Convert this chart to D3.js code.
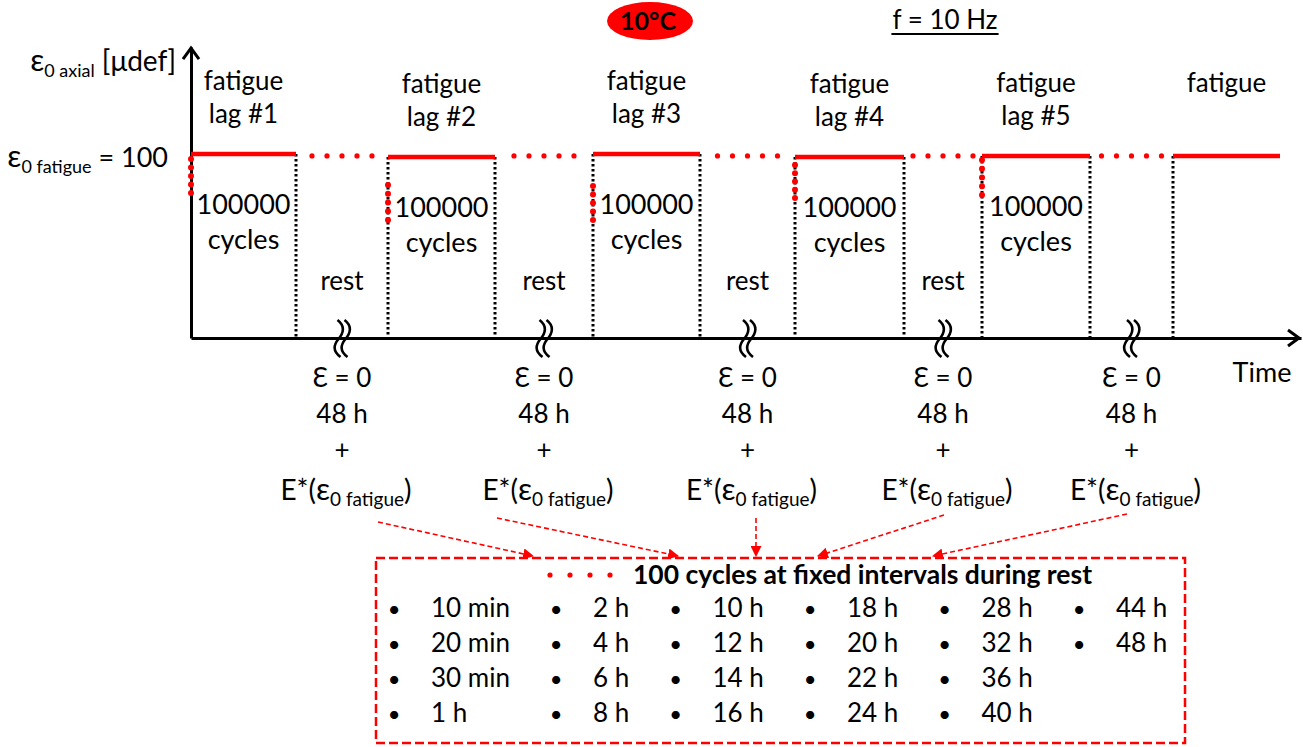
<!DOCTYPE html>
<html><head><meta charset="utf-8">
<script src="https://cdn.jsdelivr.net/npm/d3@7"></script>
<style>
body{margin:0;background:#fff}
svg{display:block}
text{font-family:Lato,"Open Sans",sans-serif;fill:#000}
</style>
</head><body>
<svg id="c" width="1303" height="747"></svg>
<script>
// ---------------- data ----------------
const fatigueLags   = ["lag #1", "lag #2", "lag #3", "lag #4", "lag #5", ""];
const fatigueStart  = [0, 197, 402, 604, 791, 982];      // time (arbitrary units)
const fatigueEnd    = [105, 304, 509, 713, 899, 1089];
const fatigueLevel  = [100.5, 98.9, 100.5, 98.9, 99.5, 99.5]; // µdef
const rampTop       = [97.8, 83.6, 83.1, 94.5, 97.3];    // µdef, first check dots
const rampBottom    = [79.2, 64.5, 64.5, 76.5, 78.1];
const restLevel     = 99.5;
const restLabelShown = [true, true, true, true, false];
const restLines     = ["\u0190 = 0", "48 h", "+"];
const checkTimes    = ["10 min","20 min","30 min","1 h","2 h","4 h","6 h","8 h",
                       "10 h","12 h","14 h","16 h","18 h","20 h","22 h","24 h",
                       "28 h","32 h","36 h","40 h","44 h","48 h"];
const arrowFrom     = [187, 306, 565, 753, 936];          // time units
const arrowTo       = [342, 487, 565, 627, 742];          // time units
const tempLabel = "10°C";
const freqLabel = "f = 10 Hz";
const boxTitle  = "100 cycles at fixed intervals during rest";

// ---------------- scales ----------------
const svg = d3.select("#c");
const x = d3.scaleLinear().domain([0, 1110]).range([191, 1301]);
const y = d3.scaleLinear().domain([0, 100]).range([338, 155]);
const RED = "#ff0000";
const FS = 26;

// ---------------- axes ----------------
svg.append("g").attr("transform", `translate(0,${y(0)})`)
  .call(d3.axisBottom(x).tickValues([]).tickSizeOuter(0));
svg.append("g").attr("transform", `translate(${x(0)},0)`)
  .call(d3.axisLeft(d3.scaleLinear().domain([0, 159]).range([y(0), y(159)])).tickValues([]).tickSizeOuter(0));
svg.selectAll(".domain").attr("stroke", "#000").attr("stroke-width", 3);
const xe = x(1110) - 2, ye = y(0);
svg.append("path").attr("d", `M${xe-11},${ye-8}L${xe},${ye}L${xe-11},${ye+8}`)
  .attr("fill", "none").attr("stroke", "#000").attr("stroke-width", 3);
const yt = y(159) + 1, xa = x(0);
svg.append("path").attr("d", `M${xa-8},${yt+11}L${xa},${yt}L${xa+8},${yt+11}`)
  .attr("fill", "none").attr("stroke", "#000").attr("stroke-width", 3);

// ---------------- black dotted verticals ----------------
const verts = [];
fatigueStart.forEach((s, i) => { if (i > 0) verts.push({t: s, v: fatigueLevel[i]}); });
fatigueEnd.forEach((e, i) => { if (i < fatigueEnd.length - 1) verts.push({t: e, v: fatigueLevel[i]}); });
svg.selectAll(".vd").data(verts).join("line")
  .attr("x1", d => x(d.t)).attr("x2", d => x(d.t))
  .attr("y1", d => y(d.v)).attr("y2", y(0))
  .attr("stroke", "#000").attr("stroke-width", 3).attr("stroke-dasharray", "2.5,2.5");

// ---------------- fatigue segments ----------------
svg.selectAll(".seg").data(fatigueStart).join("line")
  .attr("x1", d => x(d)).attr("x2", (d, i) => x(fatigueEnd[i]))
  .attr("y1", (d, i) => y(fatigueLevel[i])).attr("y2", (d, i) => y(fatigueLevel[i]))
  .attr("stroke", RED).attr("stroke-width", 4.5);

const restDots = [];
for (let i = 0; i < fatigueStart.length - 1; i++) {
  const mid = (x(fatigueEnd[i]) + x(fatigueStart[i + 1])) / 2;
  for (let k = -2; k <= 2; k++) restDots.push({cx: mid + k * 15, cy: y(restLevel)});
}
svg.selectAll(".rd").data(restDots).join("circle")
  .attr("cx", d => d.cx).attr("cy", d => d.cy).attr("r", 2.6).attr("fill", RED);

const rampDots = [];
rampTop.forEach((t, i) => {
  for (let k = 0; k < 5; k++) rampDots.push({cx: x(fatigueStart[i]), cy: y(t + (rampBottom[i] - t) * k / 4)});
});
svg.selectAll(".rp").data(rampDots).join("circle")
  .attr("cx", d => d.cx).attr("cy", d => d.cy).attr("r", 3).attr("fill", RED);

// ---------------- texts in plot ----------------
fatigueStart.forEach((s, i) => {
  const cx = (x(s) + x(fatigueEnd[i])) / 2;
  const ly = y(fatigueLevel[i]);
  svg.append("text").attr("x", cx).attr("y", ly - 64).attr("text-anchor", "middle")
    .attr("font-size", FS).text("fatigue");
  if (fatigueLags[i]) svg.append("text").attr("x", cx).attr("y", ly - 31).attr("text-anchor", "middle")
    .attr("font-size", FS).text(fatigueLags[i]);
  if (i < 5) {
    svg.append("text").attr("x", cx).attr("y", ly + 60).attr("text-anchor", "middle")
      .attr("font-size", FS + 1).text("100000");
    svg.append("text").attr("x", cx).attr("y", ly + 95).attr("text-anchor", "middle")
      .attr("font-size", FS + 1).text("cycles");
  }
});

for (let i = 0; i < fatigueStart.length - 1; i++) {
  const mid = (x(fatigueEnd[i]) + x(fatigueStart[i + 1])) / 2;
  if (restLabelShown[i]) svg.append("text").attr("x", mid).attr("y", y(26)).attr("text-anchor", "middle")
    .attr("font-size", FS).text("rest");
  [-3.5, 3.5].forEach(o => {
    const c = mid + o, t = y(0) - 18;
    svg.append("path")
      .attr("d", `M${c-1},${t} C${c+7},${t+6} ${c+5},${t+13} ${c},${t+19} S${c-6},${t+31} ${c+2},${t+37}`)
      .attr("fill", "none").attr("stroke", "#000").attr("stroke-width", 2.6);
  });
  restLines.forEach((s, k) => {
    svg.append("text").attr("x", mid).attr("y", y(0) + 49 + k * 36).attr("text-anchor", "middle")
      .attr("font-size", FS).text(s);
  });
  const e = svg.append("text").attr("x", mid + 4).attr("y", y(0) + 162).attr("text-anchor", "middle")
    .attr("font-size", 28);
  e.append("tspan").text("E*(");
  e.append("tspan").attr("font-size", 31).text("ε");
  e.append("tspan").attr("font-size", 19).attr("dy", 6).text("0 fatigue");
  e.append("tspan").attr("dy", -6).text(")");
}

svg.append("text").attr("x", 1262).attr("y", 382).attr("text-anchor", "middle")
  .attr("font-size", FS + 1).text("Time");

// y labels
const yl = svg.append("text").attr("x", 176).attr("y", 71).attr("text-anchor", "end").attr("font-size", 28);
yl.append("tspan").attr("font-size", 31).text("ε");
yl.append("tspan").attr("font-size", 18).attr("dy", 6).text("0 axial");
yl.append("tspan").attr("dy", -6).text("  [μdef]");
const yl2 = svg.append("text").attr("x", 168).attr("y", y(100) + 12).attr("text-anchor", "end").attr("font-size", 27);
yl2.append("tspan").attr("font-size", 31).text("ε");
yl2.append("tspan").attr("font-size", 18).attr("dy", 6).text("0 fatigue");
yl2.append("tspan").attr("dy", -6).text(" = 100");

// header
svg.append("ellipse").attr("cx", 650).attr("cy", 21).attr("rx", 43).attr("ry", 19).attr("fill", RED);
svg.append("text").attr("x", 648).attr("y", 30).attr("text-anchor", "middle")
  .attr("font-size", 25).attr("font-weight", "bold").text(tempLabel);
const ft = svg.append("text").attr("x", 945).attr("y", 29).attr("text-anchor", "middle")
  .attr("font-size", FS).text(freqLabel);
const fb = ft.node().getBBox();
svg.append("line").attr("x1", fb.x - 1).attr("x2", fb.x + fb.width + 1).attr("y1", 34).attr("y2", 34)
  .attr("stroke", "#000").attr("stroke-width", 2);

// ---------------- box ----------------
const bx0 = x(185), bx1 = x(994), by0 = 558, by1 = 743;
svg.append("rect").attr("x", bx0).attr("y", by0).attr("width", bx1 - bx0).attr("height", by1 - by0)
  .attr("fill", "none").attr("stroke", RED).attr("stroke-width", 2.5).attr("stroke-dasharray", "9,4");

svg.append("defs").append("marker").attr("id", "ah").attr("viewBox", "0 0 10 10")
  .attr("refX", 9).attr("refY", 5).attr("markerWidth", 11).attr("markerHeight", 11)
  .attr("markerUnits", "userSpaceOnUse").attr("orient", "auto")
  .append("path").attr("d", "M0,0L10,5L0,10Z").attr("fill", RED);
const fromY = [522, 518, 518, 515, 514];
arrowFrom.forEach((f, i) => {
  svg.append("line").attr("x1", x(f)).attr("y1", fromY[i]).attr("x2", x(arrowTo[i])).attr("y2", by0 - 2)
    .attr("stroke", RED).attr("stroke-width", 1.6).attr("stroke-dasharray", "5,3")
    .attr("marker-end", "url(#ah)");
});

[0, 1, 2, 3].forEach(k => svg.append("circle").attr("cx", 550 + k * 20).attr("cy", 575).attr("r", 2.6).attr("fill", RED));
svg.append("text").attr("x", 633).attr("y", 584).attr("font-size", 26.5).attr("font-weight", "bold").text(boxTitle);

// list: tab-like columns from measured widths
const nrow = 4, ncol = Math.ceil(checkTimes.length / nrow);
const cols = d3.range(ncol).map(c => checkTimes.slice(c * nrow, c * nrow + nrow));
const meas = svg.append("text").attr("font-size", FS).attr("visibility", "hidden");
const widths = cols.map(cs => d3.max(cs, s => { meas.text(s); return meas.node().getComputedTextLength(); }));
meas.remove();
const TAB = 37, firstX = 394, lastX = 1079;
const gap = (lastX - firstX - d3.sum(widths.slice(0, -1)) - TAB * (ncol - 1)) / (ncol - 1);
const colX = [firstX];
for (let c = 1; c < ncol; c++) colX.push(colX[c - 1] + TAB + widths[c - 1] + gap);
const rowY = d3.scalePoint().domain(d3.range(nrow)).range([617, 722]);
const items = svg.selectAll(".it").data(checkTimes).join("g")
  .attr("transform", (d, i) => `translate(${colX[Math.floor(i / nrow)]},${rowY(i % nrow)})`);
items.append("text").attr("x", 0).attr("text-anchor", "middle").attr("font-size", 22).text("•");
items.append("text").attr("x", TAB).attr("font-size", FS).text(d => d);
</script>
</body></html>
